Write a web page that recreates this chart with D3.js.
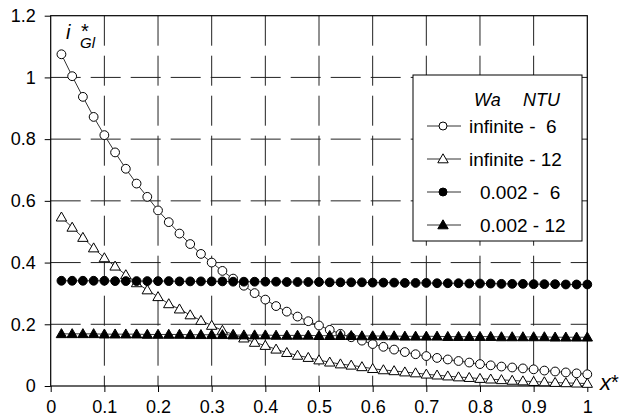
<!DOCTYPE html>
<html>
<head>
<meta charset="utf-8">
<script src="https://cdn.jsdelivr.net/npm/d3@7"></script>
<style>
  body { margin: 0; background: #fff; }
  svg { display: block; font-family: "Liberation Sans", Arial, sans-serif; }
</style>
</head>
<body>
<svg id="chart" width="625" height="417"></svg>
<script>
// ---- data ----
const xs = [0.02, 0.04, 0.06, 0.08, 0.10, 0.12, 0.14, 0.16, 0.18, 0.20,
            0.22, 0.24, 0.26, 0.28, 0.30, 0.32, 0.34, 0.36, 0.38, 0.40,
            0.42, 0.44, 0.46, 0.48, 0.50, 0.52, 0.54, 0.56, 0.58, 0.60,
            0.62, 0.64, 0.66, 0.68, 0.70, 0.72, 0.74, 0.76, 0.78, 0.80,
            0.82, 0.84, 0.86, 0.88, 0.90, 0.92, 0.94, 0.96, 0.98, 1.00];

const infinite6 = [1.075, 1.004, 0.937, 0.872, 0.813, 0.757, 0.704, 0.656, 0.613, 0.569,
                   0.531, 0.494, 0.460, 0.428, 0.400, 0.373, 0.348, 0.325, 0.301, 0.280,
                   0.259, 0.241, 0.225, 0.210, 0.196, 0.182, 0.169, 0.158, 0.147, 0.136,
                   0.127, 0.118, 0.110, 0.103, 0.097, 0.091, 0.086, 0.081, 0.076, 0.071,
                   0.067, 0.063, 0.060, 0.057, 0.054, 0.050, 0.047, 0.044, 0.041, 0.038];

const infinite12 = [0.547, 0.514, 0.481, 0.447, 0.415, 0.388, 0.360, 0.334, 0.311, 0.289,
                    0.266, 0.249, 0.230, 0.212, 0.196, 0.180, 0.167, 0.155, 0.141, 0.131,
                    0.119, 0.108, 0.099, 0.092, 0.084, 0.077, 0.071, 0.067, 0.062, 0.056,
                    0.052, 0.049, 0.045, 0.042, 0.038, 0.035, 0.032, 0.029, 0.027, 0.024,
                    0.022, 0.020, 0.018, 0.016, 0.014, 0.013, 0.011, 0.010, 0.009, 0.008];

const wa002_6 = [0.341, 0.341, 0.341, 0.341, 0.341, 0.340, 0.340, 0.340, 0.340, 0.340,
                 0.340, 0.339, 0.339, 0.339, 0.339, 0.339, 0.338, 0.338, 0.338, 0.338,
                 0.338, 0.337, 0.337, 0.337, 0.337, 0.336, 0.336, 0.336, 0.336, 0.335,
                 0.335, 0.335, 0.334, 0.334, 0.334, 0.333, 0.333, 0.333, 0.332, 0.332,
                 0.332, 0.331, 0.331, 0.331, 0.330, 0.330, 0.330, 0.329, 0.329, 0.329];

const wa002_12 = [0.169, 0.169, 0.169, 0.169, 0.168, 0.168, 0.168, 0.168, 0.167, 0.167,
                  0.167, 0.167, 0.166, 0.166, 0.166, 0.166, 0.165, 0.165, 0.165, 0.165,
                  0.164, 0.164, 0.164, 0.164, 0.163, 0.163, 0.163, 0.163, 0.162, 0.162,
                  0.162, 0.162, 0.161, 0.161, 0.161, 0.161, 0.160, 0.160, 0.160, 0.160,
                  0.160, 0.159, 0.159, 0.159, 0.159, 0.159, 0.158, 0.158, 0.158, 0.158];

const xTicks = [0, 0.1, 0.2, 0.3, 0.4, 0.5, 0.6, 0.7, 0.8, 0.9, 1];
const yTicks = [0, 0.2, 0.4, 0.6, 0.8, 1.0, 1.2];

const legendLabels = ["infinite -  6", "infinite - 12", "0.002 -  6", "0.002 - 12"];

// ---- layout ----
const svg = d3.select("#chart");
const pLeft = 50.7, pRight = 587.3, pTop = 15.7, pBottom = 386;

const x = d3.scaleLinear().domain([0, 1]).range([pLeft, pRight]);
const y = d3.scaleLinear().domain([0, 1.2]).range([pBottom, pTop]);

// grid (dashed)
const grid = svg.append("g").attr("stroke", "#222").attr("stroke-width", 1)
  .attr("stroke-dasharray", "30,10").attr("fill", "none");
grid.selectAll("line.v").data(xTicks.slice(1, -1)).join("line")
  .attr("class", "v")
  .attr("x1", d => x(d)).attr("x2", d => x(d))
  .attr("y1", pTop).attr("y2", pBottom);
grid.selectAll("line.h").data(yTicks.slice(1, -1)).join("line")
  .attr("class", "h")
  .attr("x1", pLeft).attr("x2", pRight)
  .attr("y1", d => y(d)).attr("y2", d => y(d));

// frame
svg.append("rect")
  .attr("x", pLeft).attr("y", pTop)
  .attr("width", pRight - pLeft).attr("height", pBottom - pTop)
  .attr("fill", "none").attr("stroke", "#000").attr("stroke-width", 1.2);

// axes
const fmt = d => String(+d.toFixed(1));
const xAxis = svg.append("g").attr("transform", `translate(0,${pBottom})`)
  .call(d3.axisBottom(x).tickValues(xTicks).tickSize(6).tickPadding(9).tickFormat(fmt));
const yAxis = svg.append("g").attr("transform", `translate(${pLeft},0)`)
  .call(d3.axisLeft(y).tickValues(yTicks).tickSize(6).tickPadding(9).tickFormat(fmt));
[xAxis, yAxis].forEach(a => {
  a.select(".domain").remove();
  a.selectAll("line").attr("stroke", "#000");
  a.selectAll("text").attr("font-size", 18).attr("fill", "#000")
    .attr("font-family", "Liberation Sans, Arial, sans-serif");
});
xAxis.selectAll("text").attr("dy", "0.66em");

// series
const tri = "M0,-5.2L5.2,3.8L-5.2,3.8Z";
const series = [
  { vals: infinite6, shape: "circle", fill: "#fff" },
  { vals: infinite12, shape: "tri", fill: "#fff" },
  { vals: wa002_6, shape: "circle", fill: "#000" },
  { vals: wa002_12, shape: "tri", fill: "#000" }
];

const line = d3.line().x((d, i) => x(xs[i])).y(d => y(d));

series.forEach(s => {
  svg.append("path")
    .attr("d", line(s.vals))
    .attr("fill", "none")
    .attr("stroke", "#333").attr("stroke-width", 1);
  const g = svg.append("g");
  if (s.shape === "circle") {
    g.selectAll("circle").data(s.vals).join("circle")
      .attr("cx", (d, i) => x(xs[i])).attr("cy", d => y(d))
      .attr("r", 4.4)
      .attr("fill", s.fill).attr("stroke", "#000").attr("stroke-width", 1);
  } else {
    g.selectAll("path").data(s.vals).join("path")
      .attr("transform", (d, i) => `translate(${x(xs[i])},${y(d)})`)
      .attr("d", tri)
      .attr("fill", s.fill).attr("stroke", "#000").attr("stroke-width", 1);
  }
});

// legend
const lg = svg.append("g");
lg.append("rect")
  .attr("x", 413).attr("y", 75).attr("width", 169).attr("height", 166)
  .attr("fill", "#fff").attr("stroke", "#000").attr("stroke-width", 1);
lg.append("text").attr("x", 474).attr("y", 106)
  .attr("font-size", 18).attr("font-style", "italic").text("Wa");
lg.append("text").attr("x", 523).attr("y", 106)
  .attr("font-size", 18).attr("font-style", "italic").text("NTU");
const rowY = [126, 159, 192, 225];
const rowX = [469, 469, 480, 480];
series.forEach((s, i) => {
  const ry = rowY[i];
  lg.append("line").attr("x1", 427).attr("x2", 461).attr("y1", ry).attr("y2", ry)
    .attr("stroke", "#333").attr("stroke-width", 1);
  if (s.shape === "circle") {
    lg.append("circle").attr("cx", 443).attr("cy", ry).attr("r", 4)
      .attr("fill", s.fill).attr("stroke", "#000");
  } else {
    lg.append("path").attr("transform", `translate(443,${ry})`).attr("d", tri)
      .attr("fill", s.fill).attr("stroke", "#000");
  }
  lg.append("text").attr("x", rowX[i]).attr("y", ry + 7)
    .attr("font-size", 19).style("white-space", "pre")
    .text(legendLabels[i]);
});

// axis titles
const yt = svg.append("text").attr("x", 66).attr("y", 39)
  .attr("font-style", "italic").attr("font-size", 20);
yt.append("tspan").text("i");
yt.append("tspan").attr("x", 81).attr("y", 38).attr("font-style", "normal").text("*");
yt.append("tspan").attr("x", 80).attr("y", 48).attr("font-size", 15).text("Gl");

const xt = svg.append("text").attr("x", 600).attr("y", 390)
  .attr("font-style", "italic").attr("font-size", 22);
xt.append("tspan").text("x");
xt.append("tspan").attr("font-style", "normal").attr("font-size", 20).attr("dy", -1).text("*");
</script>
</body>
</html>
